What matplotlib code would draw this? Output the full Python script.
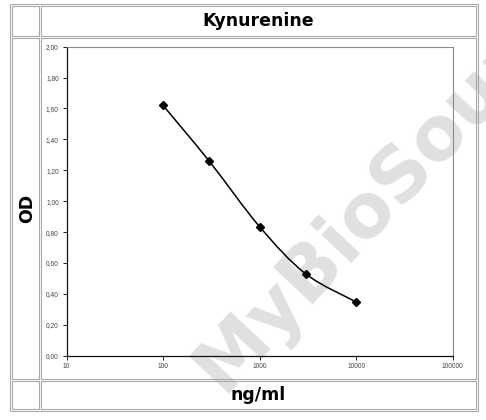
import matplotlib
matplotlib.use("Agg")
import matplotlib.pyplot as plt
import numpy as np
from matplotlib.patches import PathPatch, Rectangle
from matplotlib.path import Path
from matplotlib.ticker import FixedLocator, FuncFormatter

# data
conc = [100, 300, 1000, 3000, 10000]  # ng/ml
od = [1.62, 1.26, 0.835, 0.53, 0.348]
x_ticks = [10, 100, 1000, 10000, 100000]
y_ticks = [0.0, 0.2, 0.4, 0.6, 0.8, 1.0, 1.2, 1.4, 1.6, 1.8, 2.0]
title = "Kynurenine"
x_label = "ng/ml"
y_label = "OD"

W, H = 486, 420
fig = plt.figure(figsize=(W / 100, H / 100), dpi=100)
fig.patch.set_facecolor("white")


def fx(px):
    return px / W


def fy(py):
    return 1 - py / H


# watermark, behind everything else
fig.text(fx(222), fy(394), "MyBioSource", ha="left", va="baseline", rotation=47,
         rotation_mode="anchor", fontsize=54, fontweight="bold", family="DejaVu Sans",
         color="#e0e0e0", zorder=-5)

# table frame: outer border plus one box per cell
frame_col = "#a9a9a9"
lw = 0.8


def box(x0, y0, x1, y1):
    fig.add_artist(Rectangle((fx(x0), fy(y1)), fx(x1) - fx(x0), fy(y0) - fy(y1),
                             transform=fig.transFigure, fill=False,
                             edgecolor=frame_col, linewidth=lw))


box(10, 4, 478, 411)
for (r0, r1) in [(6, 36), (38, 379), (381, 409)]:
    box(12, r0, 39, r1)
    box(41, r0, 476, r1)

# plot area
ax_l, ax_r, ax_t, ax_b = 66.5, 452.7, 46.7, 355.7
ax = fig.add_axes([fx(ax_l), fy(ax_b), fx(ax_r) - fx(ax_l), (ax_b - ax_t) / H])
ax.set_facecolor("none")
ax.set_xscale("log")
ax.set_xlim(10, 100000)
ax.set_ylim(0, 2.0)

ax.xaxis.set_major_locator(FixedLocator(x_ticks))
ax.xaxis.set_minor_locator(FixedLocator([]))
ax.xaxis.set_major_formatter(FuncFormatter(lambda v, p: f"{v:.0f}"))
ax.yaxis.set_major_locator(FixedLocator(y_ticks))
ax.yaxis.set_major_formatter(FuncFormatter(lambda v, p: f"{v:.2f}".replace(".", ",")))

ax.tick_params(axis="both", direction="out", length=3, width=0.7, color="#222222",
               labelsize=4.8, labelcolor="#444444", pad=2.5)
for lab in ax.get_xticklabels() + ax.get_yticklabels():
    lab.set_family("Liberation Sans")

ax.spines["left"].set_color("#111111")
ax.spines["bottom"].set_color("#111111")
ax.spines["left"].set_linewidth(0.9)
ax.spines["bottom"].set_linewidth(0.9)
ax.spines["top"].set_color("#8a8a8a")
ax.spines["right"].set_color("#8a8a8a")
ax.spines["top"].set_linewidth(0.8)
ax.spines["right"].set_linewidth(0.8)

# smoothed line (Catmull-Rom style bezier, like a spreadsheet smooth line)
lx = np.log10(conc)
ly = np.array(od)
n = len(lx)
verts = [(conc[0], od[0])]
codes = [Path.MOVETO]
for i in range(n - 1):
    p0 = max(i - 1, 0)
    p3 = min(i + 2, n - 1)
    c1x = lx[i] + (lx[i + 1] - lx[p0]) / 6
    c1y = ly[i] + (ly[i + 1] - ly[p0]) / 6
    c2x = lx[i + 1] - (lx[p3] - lx[i]) / 6
    c2y = ly[i + 1] - (ly[p3] - ly[i]) / 6
    verts += [(10 ** c1x, c1y), (10 ** c2x, c2y), (conc[i + 1], od[i + 1])]
    codes += [Path.CURVE4] * 3
ax.add_patch(PathPatch(Path(verts, codes), facecolor="none", edgecolor="black",
                       linewidth=1.1, transform=ax.transData, zorder=3))
ax.plot(conc, od, linestyle="none", marker="D", markersize=3.6, color="black", zorder=4)

# labels in their table cells
fig.text(fx(258.5), fy(21.5), title, ha="center", va="center", fontsize=12.5,
         fontweight="bold", family="DejaVu Sans")
fig.text(fx(258.5), fy(395.5), x_label, ha="center", va="center", fontsize=12.5,
         fontweight="bold", family="DejaVu Sans")
fig.text(fx(27.5), fy(208.5), y_label, ha="center", va="center", fontsize=12.5,
         fontweight="bold", family="DejaVu Sans", rotation=90)

fig.savefig("out.png", dpi=100)
